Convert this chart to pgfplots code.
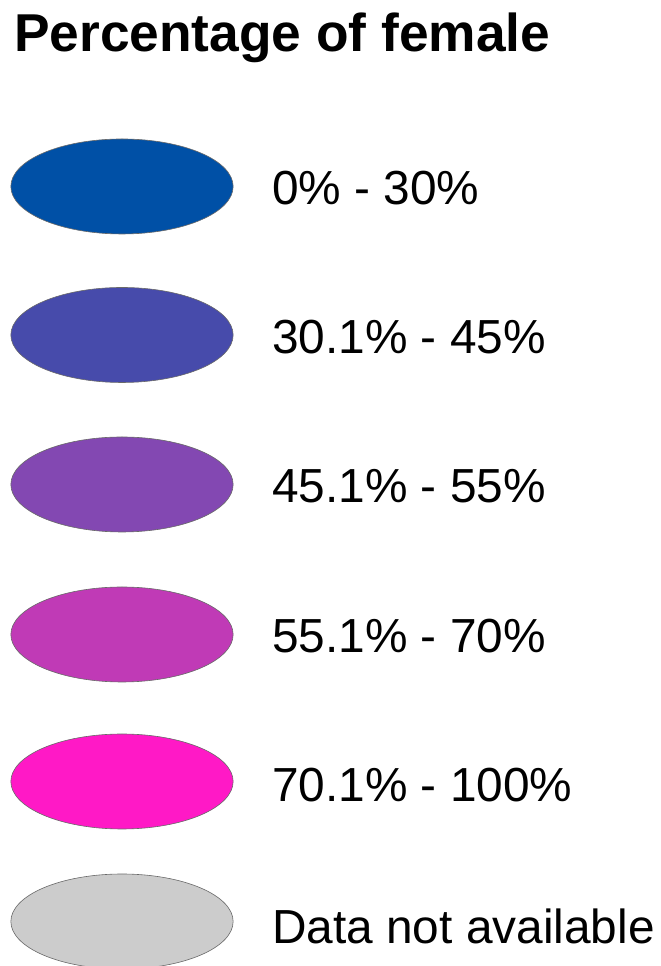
\documentclass[border=0pt]{standalone}
\usepackage{pgfplots}
\pgfplotsset{compat=1.18}
\usepackage{fontspec}
\setmainfont{Liberation Sans}
\definecolor{c1}{RGB}{0,80,166}
\definecolor{c2}{RGB}{71,75,171}
\definecolor{c3}{RGB}{131,72,178}
\definecolor{c4}{RGB}{192,58,182}
\definecolor{c5}{RGB}{255,25,198}
\definecolor{c6}{RGB}{204,204,204}
\definecolor{edge}{RGB}{105,105,105}
\pgfplotsset{sw/.style={only marks, mark=*, mark size=47.5bp,
    mark options={xscale=2.34, draw=edge, line width=0.6bp, fill=#1}}}
\begin{document}
\begin{tikzpicture}
\begin{axis}[
  width=661bp, height=966bp, scale only axis,
  xmin=0, xmax=661, ymin=0, ymax=966,
  hide axis, clip=false,
]
\coordinate (bl) at (axis cs:0,0);
\coordinate (tr) at (axis cs:661,966);
% legend swatches: x = 122, y = 966 - pixel row of centre
\addplot[sw=c1] coordinates {(122,779.5)};
\addplot[sw=c2] coordinates {(122,631)};
\addplot[sw=c3] coordinates {(122,481.5)};
\addplot[sw=c4] coordinates {(122,331.5)};
\addplot[sw=c5] coordinates {(122,184.5)};
\addplot[sw=c6] coordinates {(122,44.5)};
\node[anchor=base west, inner sep=0pt, font=\bfseries\fontsize{53.3bp}{60bp}\selectfont] at (axis cs:14,914) {Percentage of female};
\begin{scope}[every node/.style={anchor=base west, inner sep=0pt, font=\fontsize{47.8bp}{54bp}\selectfont}]
\node at (axis cs:272,761) {0\% - 30\%};
\node at (axis cs:272,612.5) {30.1\% - 45\%};
\node at (axis cs:272,463) {45.1\% - 55\%};
\node at (axis cs:272,313) {55.1\% - 70\%};
\node at (axis cs:272,164.5) {70.1\% - 100\%};
\node at (axis cs:272,23) {Data not available};
\end{scope}
\end{axis}
\pgfresetboundingbox
\path[use as bounding box] (bl) rectangle (tr);
\end{tikzpicture}
\end{document}
